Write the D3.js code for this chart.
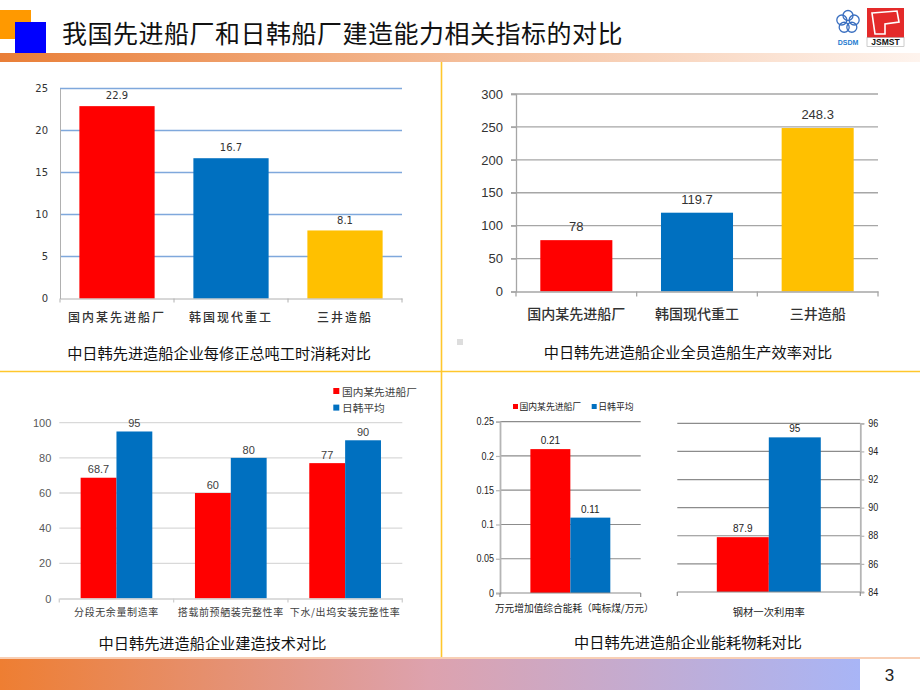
<!DOCTYPE html>
<html><head><meta charset="utf-8">
<script src="https://cdn.jsdelivr.net/npm/d3@7"></script>
<style>body{margin:0;background:#fff;} svg{display:block;}</style>
</head><body><svg id="c" width="920" height="690"></svg>
<script>
// ---------------- data ----------------
const slideTitle = "我国先进船厂和日韩船厂建造能力相关指标的对比";
const pageNumber = "3";
const shipyards = ["国内某先进船厂", "韩国现代重工", "三井造船"];
const manHoursValues = [22.9, 16.7, 8.1];
const manHoursTicks = [0, 5, 10, 15, 20, 25];
const manHoursCaption = "中日韩先进造船企业每修正总吨工时消耗对比";
const productivityValues = [78, 119.7, 248.3];
const productivityTicks = [0, 50, 100, 150, 200, 250, 300];
const productivityCaption = "中日韩先进造船企业全员造船生产效率对比";
const seriesNames = ["国内某先进船厂", "日韩平均"];
const techCategories = ["分段无余量制造率", "搭载前预舾装完整性率", "下水/出坞安装完整性率"];
const techDomestic = [68.7, 60, 77];
const techJapanKorea = [95, 80, 90];
const techTicks = [0, 20, 40, 60, 80, 100];
const techCaption = "中日韩先进造船企业建造技术对比";
const energyCategory = ["万元增加值综合能耗（吨标煤/万元）"];
const energyDomestic = [0.21];
const energyJapanKorea = [0.11];
const energyTicks = [0, 0.05, 0.1, 0.15, 0.2, 0.25];
const steelCategory = ["钢材一次利用率"];
const steelDomestic = [87.9];
const steelJapanKorea = [95];
const steelTicks = [84, 86, 88, 90, 92, 94, 96];
const consumptionCaption = "中日韩先进造船企业能耗物耗对比";

// ---------------- styles ----------------
const RED = "#FF0000", BLUE = "#0070C0", YELLOW = "#FFC000";
const CJK = "'Noto Sans CJK SC', 'Noto Sans', sans-serif";
const ARIAL = "'Liberation Sans', Arial, sans-serif";
const plainFmt = d => String(d);
const svg = d3.select("#c");
const defs = svg.append("defs");

// ---------------- slide frame ----------------
const tg = defs.append("linearGradient").attr("id", "topGrad");
tg.append("stop").attr("offset", "0").attr("stop-color", "#E97E37");
tg.append("stop").attr("offset", "0.5").attr("stop-color", "#F4BD99");
tg.append("stop").attr("offset", "1").attr("stop-color", "#FEF4EE");
const bg = defs.append("linearGradient").attr("id", "botGrad");
bg.append("stop").attr("offset", "0").attr("stop-color", "#EE7E32");
bg.append("stop").attr("offset", "0.5").attr("stop-color", "#DDA2AE");
bg.append("stop").attr("offset", "1").attr("stop-color", "#A8B5F6");

svg.append("rect").attr("x", 0).attr("y", 10).attr("width", 31).attr("height", 29).attr("fill", "#FF9900");
svg.append("rect").attr("x", 15).attr("y", 22).attr("width", 31).attr("height", 31).attr("fill", "#0000FF");
svg.append("text").attr("x", 62).attr("y", 32).attr("dominant-baseline", "central")
  .attr("font-family", CJK).attr("font-size", 25).attr("letter-spacing", 0.5).attr("fill", "#111").text(slideTitle);
svg.append("rect").attr("x", 0).attr("y", 53).attr("width", 920).attr("height", 9).attr("fill", "url(#topGrad)");

// logos
const lg = svg.append("g");
for (let k = 0; k < 5; k++) {
  const a = -Math.PI / 2 + k * 2 * Math.PI / 5;
  lg.append("circle").attr("cx", 848 + 6.5 * Math.cos(a)).attr("cy", 22 + 6.5 * Math.sin(a)).attr("r", 5)
    .attr("fill", "none").attr("stroke", "#3A6FC0").attr("stroke-width", 1.3);
}
lg.append("text").attr("x", 848).attr("y", 42.5).attr("text-anchor", "middle").attr("dominant-baseline", "central")
  .attr("font-family", ARIAL).attr("font-weight", "bold").attr("font-size", 7).attr("fill", "#1E7BD0").text("DSDM");
lg.append("rect").attr("x", 867).attr("y", 8).attr("width", 37).attr("height", 30).attr("fill", "#E42A2A");
lg.append("path").attr("d", "M872,13 L897,11 L899,22 L885,24 L885,34 L875,34 Z")
  .attr("fill", "none").attr("stroke", "#fff").attr("stroke-width", 1.6);
lg.append("rect").attr("x", 867).attr("y", 37.5).attr("width", 37).attr("height", 9).attr("fill", "#fff").attr("stroke", "#999").attr("stroke-width", 0.5);
lg.append("text").attr("x", 885.5).attr("y", 42.3).attr("text-anchor", "middle").attr("dominant-baseline", "central")
  .attr("font-family", ARIAL).attr("font-weight", "bold").attr("font-size", 8.5).attr("fill", "#111").text("JSMST");

// separators
svg.append("line").attr("x1", 441.5).attr("x2", 441.5).attr("y1", 62).attr("y2", 657).attr("stroke", "#FFC72C").attr("stroke-width", 1.6);
svg.append("line").attr("x1", 0).attr("x2", 920).attr("y1", 371.5).attr("y2", 371.5).attr("stroke", "#FFC72C").attr("stroke-width", 1.6);
svg.append("rect").attr("x", 457).attr("y", 339).attr("width", 6).attr("height", 6).attr("fill", "#DDDDDD");

// bottom
svg.append("rect").attr("x", 0).attr("y", 659).attr("width", 860).attr("height", 31).attr("fill", "url(#botGrad)");
svg.append("line").attr("x1", 0).attr("x2", 920).attr("y1", 658).attr("y2", 658).attr("stroke", "#F1A06C").attr("stroke-width", 1.2);
svg.append("text").attr("x", 889.5).attr("y", 675).attr("text-anchor", "middle").attr("dominant-baseline", "central")
  .attr("font-family", ARIAL).attr("font-size", 17).attr("fill", "#222").text(pageNumber);

function caption(txt, x, y) {
  svg.append("text").attr("x", x).attr("y", y).attr("text-anchor", "middle").attr("dominant-baseline", "central")
    .attr("font-family", CJK).attr("font-size", 15.2).attr("fill", "#111").text(txt);
}
function styleAxisText(sel, family, size, fill) {
  sel.selectAll("text").attr("font-family", family).attr("font-size", size).attr("fill", fill);
}
function boundaries(x) {
  const r0 = x.range()[0];
  return d3.range(x.domain().length + 1).map(i => r0 + i * x.step());
}

// ---------------- chart 1 ----------------
(function () {
  const g = svg.append("g");
  const x = d3.scaleBand().domain(shipyards).range([60, 402]).paddingInner(0.34).paddingOuter(0.17);
  const y = d3.scaleLinear().domain([0, 25]).range([298.5, 88.5]);
  g.selectAll(".grid").data(manHoursTicks.filter(t => t > 0)).join("line")
    .attr("x1", 60).attr("x2", 402).attr("y1", d => y(d)).attr("y2", d => y(d))
    .attr("stroke", "#7FA8DC").attr("stroke-width", 1.3);
  const ya = g.append("g").attr("transform", "translate(60,0)")
    .call(d3.axisLeft(y).tickValues(manHoursTicks).tickFormat(plainFmt).tickSize(0).tickPadding(12));
  ya.select(".domain").attr("stroke", "#B0B0B0");
  styleAxisText(ya, "'DejaVu Sans', sans-serif", 10, "#333");
  const colors = [RED, BLUE, YELLOW];
  g.selectAll(".bar").data(manHoursValues).join("rect")
    .attr("x", (d, i) => x(shipyards[i])).attr("width", x.bandwidth())
    .attr("y", d => y(d)).attr("height", d => y(0) - y(d)).attr("fill", (d, i) => colors[i]);
  g.selectAll(".val").data(manHoursValues).join("text")
    .attr("x", (d, i) => x(shipyards[i]) + x.bandwidth() / 2).attr("y", d => y(d) - 10.4)
    .attr("text-anchor", "middle").attr("dominant-baseline", "central")
    .attr("font-family", "'DejaVu Sans', sans-serif").attr("font-size", 10).attr("fill", "#333").text(d => d);
  const xa = g.append("g").attr("transform", `translate(0,${y(0)})`)
    .call(d3.axisBottom(x).tickSize(0).tickPadding(14));
  xa.select(".domain").attr("stroke", "#B0B0B0");
  styleAxisText(xa, CJK, 12, "#333");
  xa.selectAll("text").attr("letter-spacing", 2).attr("font-weight", 500).attr("dy", null)
    .attr("y", 18).attr("dominant-baseline", "central");
  g.selectAll(".xt").data(boundaries(x)).join("line")
    .attr("x1", d => d).attr("x2", d => d).attr("y1", y(0)).attr("y2", y(0) + 4).attr("stroke", "#B0B0B0");
  caption(manHoursCaption, 219, 351.7);
})();

// ---------------- chart 2 ----------------
(function () {
  const g = svg.append("g");
  const x = d3.scaleBand().domain(shipyards).range([516, 878]).paddingInner(0.403).paddingOuter(0.2015);
  const y = d3.scaleLinear().domain([0, 300]).range([291.5, 94]);
  g.selectAll(".grid").data(productivityTicks.filter(t => t > 0)).join("line")
    .attr("x1", 511).attr("x2", 878).attr("y1", d => y(d)).attr("y2", d => y(d))
    .attr("stroke", "#A6A6A6").attr("stroke-width", 1.3);
  const ya = g.append("g").attr("transform", "translate(516,0)")
    .call(d3.axisLeft(y).tickValues(productivityTicks).tickFormat(plainFmt).tickSize(5).tickPadding(8));
  ya.select(".domain").attr("stroke", "#A6A6A6").attr("stroke-width", 1.3);
  ya.selectAll(".tick line").attr("stroke", "#A6A6A6").attr("stroke-width", 1.3);
  styleAxisText(ya, ARIAL, 13, "#333");
  const colors = [RED, BLUE, YELLOW];
  g.selectAll(".bar").data(productivityValues).join("rect")
    .attr("x", (d, i) => x(shipyards[i])).attr("width", x.bandwidth())
    .attr("y", d => y(d)).attr("height", d => y(0) - y(d)).attr("fill", (d, i) => colors[i]);
  g.selectAll(".val").data(productivityValues).join("text")
    .attr("x", (d, i) => x(shipyards[i]) + x.bandwidth() / 2).attr("y", d => y(d) - 13.6)
    .attr("text-anchor", "middle").attr("dominant-baseline", "central")
    .attr("font-family", ARIAL).attr("font-size", 13).attr("fill", "#333").text(d => d);
  const xa = g.append("g").attr("transform", `translate(0,${y(0)})`)
    .call(d3.axisBottom(x).tickSize(0));
  xa.select(".domain").attr("stroke", "#A6A6A6").attr("stroke-width", 1.3);
  styleAxisText(xa, CJK, 14, "#333");
  xa.selectAll("text").attr("font-weight", 500).attr("dy", null).attr("y", 21.8).attr("dominant-baseline", "central");
  g.selectAll(".xt").data(boundaries(x)).join("line")
    .attr("x1", d => d).attr("x2", d => d).attr("y1", y(0)).attr("y2", y(0) + 5).attr("stroke", "#A6A6A6").attr("stroke-width", 1.3);
  caption(productivityCaption, 688, 350.7);
})();

// ---------------- chart 3 ----------------
(function () {
  const g = svg.append("g");
  const x0 = d3.scaleBand().domain(techCategories).range([59.3, 402.3]).paddingInner(0.373).paddingOuter(0.1865);
  const x1 = d3.scaleBand().domain(seriesNames).range([0, x0.bandwidth()]);
  const y = d3.scaleLinear().domain([0, 100]).range([598.5, 422.7]);
  g.selectAll(".grid").data(techTicks.filter(t => t > 0)).join("line")
    .attr("x1", 59.3).attr("x2", 402.3).attr("y1", d => y(d)).attr("y2", d => y(d))
    .attr("stroke", "#D9D9D9").attr("stroke-width", 1.3);
  const ya = g.append("g").attr("transform", "translate(59.3,0)")
    .call(d3.axisLeft(y).tickValues(techTicks).tickFormat(plainFmt).tickSize(0).tickPadding(8));
  ya.select(".domain").remove();
  styleAxisText(ya, ARIAL, 11, "#595959");
  const series = [techDomestic, techJapanKorea];
  const colors = [RED, BLUE];
  series.forEach((vals, s) => {
    g.selectAll(".bar" + s).data(vals).join("rect")
      .attr("x", (d, i) => x0(techCategories[i]) + x1(seriesNames[s])).attr("width", x1.bandwidth())
      .attr("y", d => y(d)).attr("height", d => y(0) - y(d)).attr("fill", colors[s]);
    g.selectAll(".val" + s).data(vals).join("text")
      .attr("x", (d, i) => x0(techCategories[i]) + x1(seriesNames[s]) + x1.bandwidth() / 2).attr("y", d => y(d) - 8.3)
      .attr("text-anchor", "middle").attr("dominant-baseline", "central")
      .attr("font-family", ARIAL).attr("font-size", 11).attr("fill", "#404040").text(d => d);
  });
  const xa = g.append("g").attr("transform", `translate(0,${y(0)})`).call(d3.axisBottom(x0).tickSize(0));
  xa.select(".domain").attr("stroke", "#D0D0D0").attr("stroke-width", 1.3);
  styleAxisText(xa, CJK, 10, "#404040");
  xa.selectAll("text").attr("letter-spacing", 0.6).attr("dy", null).attr("y", 12.5).attr("dominant-baseline", "central");
  g.selectAll(".xt").data(boundaries(x0)).join("line")
    .attr("x1", d => d).attr("x2", d => d).attr("y1", y(0)).attr("y2", y(0) + 4).attr("stroke", "#D0D0D0").attr("stroke-width", 1.3);
  // legend
  seriesNames.forEach((n, i) => {
    g.append("rect").attr("x", 333.3).attr("y", 388 + i * 16.6).attr("width", 6).attr("height", 6).attr("fill", colors[i]);
    g.append("text").attr("x", 342).attr("y", 391 + i * 16.6).attr("dominant-baseline", "central")
      .attr("font-family", CJK).attr("font-size", 10.7).attr("fill", "#404040").text(n);
  });
  caption(techCaption, 212.5, 642.3);
})();

// ---------------- chart 4 ----------------
function subChart(cat, dom, jk, ticks, x0r, yr, side, labelY) {
  const g = svg.append("g");
  const x0 = d3.scaleBand().domain(cat).range(x0r).paddingInner(0).paddingOuter(0.38);
  const x1 = d3.scaleBand().domain(seriesNames).range([0, x0.bandwidth()]);
  const y = d3.scaleLinear().domain([ticks[0], ticks[ticks.length - 1]]).range(yr);
  g.selectAll(".grid").data(ticks.slice(1)).join("line")
    .attr("x1", x0r[0]).attr("x2", x0r[1]).attr("y1", d => y(d)).attr("y2", d => y(d))
    .attr("stroke", "#8C8C8C").attr("stroke-width", 1.2);
  const axisX = side === "left" ? x0r[0] : x0r[1];
  const axisGen = side === "left" ? d3.axisLeft(y) : d3.axisRight(y);
  const ya = g.append("g").attr("transform", `translate(${axisX},0)`)
    .call(axisGen.tickValues(ticks).tickFormat(plainFmt).tickSize(4).tickPadding(side === "left" ? 2 : 4));
  ya.select(".domain").attr("stroke", "#B5B5B5").attr("stroke-width", 1.8);
  ya.selectAll(".tick line").attr("stroke", "#B5B5B5").attr("stroke-width", 1.2);
  styleAxisText(ya, ARIAL, 10, "#222");
  ya.selectAll("text").attr("transform", "scale(0.9,1)").attr("x", function () {
    return side === "left" ? -6 / 0.9 : 8 / 0.9;
  });
  const series = [dom, jk];
  const colors = [RED, BLUE];
  series.forEach((vals, s) => {
    g.selectAll(".bar" + s).data(vals).join("rect")
      .attr("x", (d, i) => x0(cat[i]) + x1(seriesNames[s])).attr("width", x1.bandwidth())
      .attr("y", d => y(d)).attr("height", d => y(ticks[0]) - y(d)).attr("fill", colors[s]);
    g.selectAll(".val" + s).data(vals).join("text")
      .attr("x", (d, i) => x0(cat[i]) + x1(seriesNames[s]) + x1.bandwidth() / 2).attr("y", d => y(d) - 8.6)
      .attr("text-anchor", "middle").attr("dominant-baseline", "central")
      .attr("font-family", ARIAL).attr("font-size", 10).attr("fill", "#222").text(d => d);
  });
  g.append("line").attr("x1", x0r[0]).attr("x2", x0r[1]).attr("y1", y(ticks[0])).attr("y2", y(ticks[0]))
    .attr("stroke", "#8C8C8C").attr("stroke-width", 1.2);
  [x0r[0], x0r[1]].forEach(px => g.append("line").attr("x1", px).attr("x2", px)
    .attr("y1", y(ticks[0])).attr("y2", y(ticks[0]) + 4).attr("stroke", "#8C8C8C").attr("stroke-width", 1.2));
  g.append("text").attr("x", (x0r[0] + x0r[1]) / 2 + (side === "left" ? 4 : 0)).attr("y", labelY)
    .attr("text-anchor", "middle").attr("dominant-baseline", "central")
    .attr("font-family", CJK).attr("font-size", side === "left" ? 9.7 : 10.3).attr("fill", "#222").text(cat[0]);
}
subChart(energyCategory, energyDomestic, energyJapanKorea, energyTicks, [500, 640.7], [593, 421.7], "left", 608.3);
subChart(steelCategory, steelDomestic, steelJapanKorea, steelTicks, [677.3, 860.3], [592, 423.3], "right", 611.7);
// legend chart 4
[[513, RED, 519.5], [591.7, BLUE, 598.3]].forEach((l, i) => {
  svg.append("rect").attr("x", l[0]).attr("y", 404).attr("width", 5).attr("height", 5).attr("fill", l[1]);
  svg.append("text").attr("x", l[2]).attr("y", 406.8).attr("dominant-baseline", "central")
    .attr("font-family", CJK).attr("font-size", 8.8).attr("fill", "#222").text(seriesNames[i]);
});
caption(consumptionCaption, 688, 641);
</script>
</body></html>
